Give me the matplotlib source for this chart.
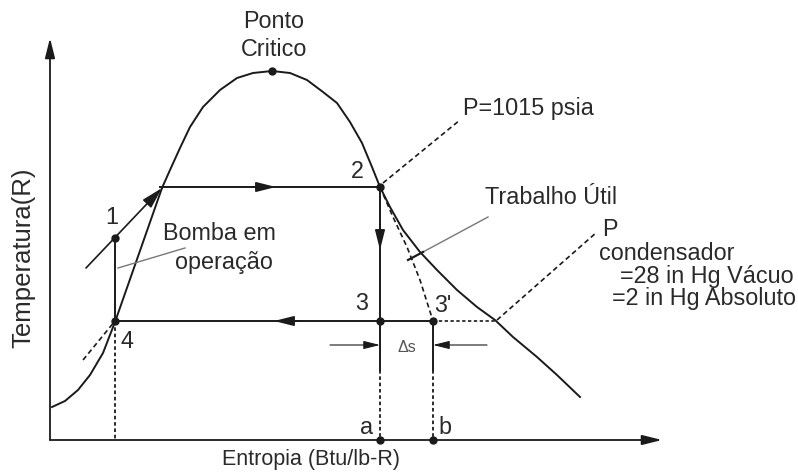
import numpy as np
import matplotlib
matplotlib.use('Agg')
import matplotlib.pyplot as plt

plt.rcParams['font.family'] = ['Liberation Sans', 'DejaVu Sans']

liq_s = [2, 15, 28, 40, 53, 65]
liq_T = [33, 39, 50, 65, 87, 118]
bomba_s = [65, 112]
bomba_T = [118, 252]
domo_s = [112, 120, 130, 140, 153, 170, 187, 203, 222, 240, 257, 273, 287, 300, 312, 322, 330,
          340, 353, 370, 387, 407, 427, 445, 463, 487, 507, 530]
domo_T = [252, 270, 292, 313, 333, 350, 362, 367, 369, 367, 360, 348, 337, 318, 297, 273, 253,
          233, 210, 188, 170, 150, 133, 120, 103, 83, 65, 43]
real_s = [330, 343, 357, 370, 383]
real_T = [253, 223, 193, 160, 119]

pontos = {'crit': (222, 369), '2': (330, 253), '1': (65, 202), '4': (65, 119),
          '3': (330, 119), "3'": (383, 119), 'a': (330, 0), 'b': (383, 0)}

s1, T1 = pontos['1']
s2, T2 = pontos['2']
s3, T3 = pontos['3']
s3l, T3l = pontos["3'"]
s4, T4 = pontos['4']

fig = plt.figure(figsize=(7.98, 4.72), dpi=100)
ax = fig.add_axes([0, 0, 1, 1])
ax.set_xlim(-50, 748)
ax.set_ylim(-32, 440)
ax.axis('off')

k = '#1a1a1a'
g = '#777777'
lw = 1.4

def seta(x0, y0, x1, y1, cor=k, w=1.2, hl=12, hw=7):
    ax.annotate('', xy=(x1, y1), xytext=(x0, y0),
                arrowprops=dict(arrowstyle='-|>,head_length=%f,head_width=%f' % (hl / 10, hw / 20),
                                color=cor, lw=w, shrinkA=0, shrinkB=0))

# eixos
seta(0, 0, 0, 402, w=1.3, hl=12, hw=6)
seta(0, 0, 612, 0, w=1.3, hl=12, hw=6)

# curva de saturacao
ax.plot(liq_s, liq_T, color=k, lw=lw)
ax.plot(bomba_s, bomba_T, color=k, lw=lw)
ax.plot(domo_s, domo_T, color=k, lw=lw, solid_joinstyle='round')
ax.plot(real_s, real_T, color=k, lw=1.2, ls=(0, (3, 2)))

# ciclo
ax.plot([110, s2], [T2, T2], color=k, lw=lw)
seta(200, T2, 226, T2, hl=12, hw=6)
ax.plot([s3l, s4], [T4, T4], color=k, lw=lw)
seta(250, T4, 224, T4, hl=12, hw=6)
ax.plot([s2, s2], [T2, 70], color=k, lw=lw)
seta(s2, 215, s2, 190, hl=12, hw=6)
ax.plot([s2, s2], [70, 0], color=k, lw=1.3, ls=(0, (2, 1.5)))
ax.plot([s3l, s3l], [T3l, 70], color=k, lw=lw)
ax.plot([s3l, s3l], [70, 0], color=k, lw=1.3, ls=(0, (2, 1.5)))
ax.plot([s1, s1], [T1, T4], color=k, lw=lw)
ax.plot([s4, s4], [T4, 0], color=k, lw=1.3, ls=(0, (2, 1.5)))
ax.plot([33, s4], [80, T4], color=k, lw=1.2, ls=(0, (3, 2)))
ax.plot([s3l, 445], [T3l, T3l], color=k, lw=1.2, ls=(0, (2, 1.5)))
seta(36, 172, 112, 252, hl=13, hw=7)

# pontos
for nome, (ps, pT) in pontos.items():
    ax.plot(ps, pT, 'o', color=k, ms=5)

# linhas de chamada
ax.plot([333, 410], [257, 320], color=k, lw=1.2, ls=(0, (3, 2)))
ax.plot([447, 547], [120, 208], color=k, lw=1.2, ls=(0, (3, 2)))
ax.plot([438, 373], [223, 188], color=g, lw=1.0)
ax.plot([358, 373], [180, 188], color=k, lw=1.6)
ax.plot([135, 68], [192, 172], color=g, lw=1.0)

# delta s
seta(280, 95, s2, 95, cor=k, w=0.8, hl=10, hw=5)
seta(437, 95, s3l, 95, cor=k, w=0.8, hl=10, hw=5)
ax.text(357, 93, '\u0394s', ha='center', va='center', fontsize=11.5, color='#555555')

# textos
tc = '#2a2a2a'
fs = 16.8
ax.text(224, 418, 'Ponto', ha='center', va='center', fontsize=fs, color=tc)
ax.text(224, 390, 'Critico', ha='center', va='center', fontsize=fs, color=tc)
ax.text(413, 332, 'P=1015 psia', ha='left', va='center', fontsize=fs, color=tc)
ax.text(435, 243, 'Trabalho \u00datil', ha='left', va='center', fontsize=fs, color=tc)
ax.text(113, 207, 'Bomba em', ha='left', va='center', fontsize=fs, color=tc)
ax.text(125, 177, 'opera\u00e7\u00e3o', ha='left', va='center', fontsize=fs, color=tc)
ax.text(552, 210, 'P', ha='left', va='center', fontsize=fs, color=tc)
ax.text(549, 187, 'condensador', ha='left', va='center', fontsize=fs, color=tc)
ax.text(570, 164, '=28 in Hg V\u00e1cuo', ha='left', va='center', fontsize=fs, color=tc)
ax.text(562, 142, '=2 in Hg Absoluto', ha='left', va='center', fontsize=fs, color=tc)
ax.text(62, 222, '1', ha='center', va='center', fontsize=fs, color=tc)
ax.text(307, 268, '2', ha='center', va='center', fontsize=fs, color=tc)
ax.text(312, 137, '3', ha='center', va='center', fontsize=fs, color=tc)
ax.text(393, 135, "3'", ha='center', va='center', fontsize=fs, color=tc)
ax.text(77, 98, '4', ha='center', va='center', fontsize=fs, color=tc)
ax.text(317, 12, 'a', ha='center', va='center', fontsize=fs, color=tc)
ax.text(395, 12, 'b', ha='center', va='center', fontsize=fs, color=tc)
ax.text(-27, 182, 'Temperatura(R)', ha='center', va='center', rotation=90, fontsize=18.5, color=tc)
ax.text(261, -20, 'Entropia (Btu/lb-R)', ha='center', va='center', fontsize=15.5, color=tc)

fig.savefig('out.png', dpi=100)
